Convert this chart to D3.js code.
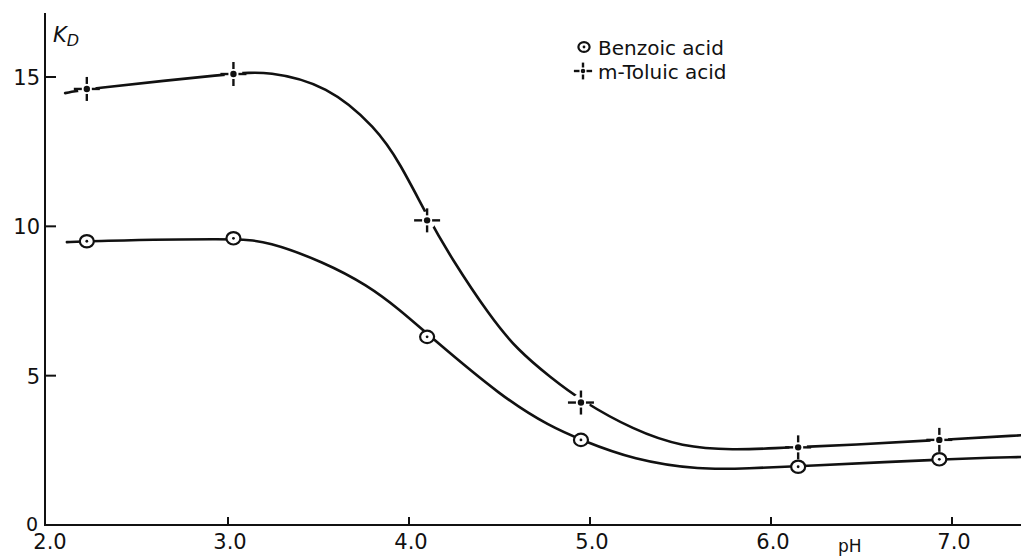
<html lang="en">
<head>
<meta charset="utf-8">
<title>KD vs pH</title>
<style>
  body { margin: 0; background: white; }
  svg text { font-family: "DejaVu Sans", Arial, sans-serif; fill: #111; }
  .curve { fill: none; stroke: #111; stroke-width: 2.6; stroke-linecap: round; }
</style>
</head>
<body>
<div id="chart"></div>
<script src="https://d3js.org/d3.v7.min.js"></script>
<script>
// measured points (pH, KD)
var phValues = [2.22, 3.03, 4.10, 4.95, 6.15, 6.93];
var benzoic  = [9.5, 9.6, 6.3, 2.85, 1.95, 2.2];
var toluic   = [14.6, 15.1, 10.2, 4.1, 2.6, 2.85];

// hand-drawn curves
var benzoicCurve = [[2.11,9.47],[2.22,9.51],[3.04,9.6],[3.22,9.5],[3.53,8.8],[3.77,8.03],[3.95,7.2],
  [4.10,6.4],[4.52,4.25],[4.78,3.3],[4.95,2.85],[5.24,2.18],[5.61,1.84],[5.88,1.9],[6.15,1.96],
  [6.93,2.2],[7.40,2.28]];
var toluicCurve = [[2.10,14.46],[2.22,14.6],[3.03,15.12],[3.22,15.2],[3.55,14.73],[3.82,13.29],
  [3.95,12.12],[4.10,10.35],[4.23,8.97],[4.45,6.96],[4.60,5.86],[4.78,4.95],[4.95,4.17],[5.24,3.18],
  [5.51,2.61],[5.79,2.51],[6.05,2.58],[6.15,2.61],[6.44,2.68],[6.93,2.85],[7.40,3.01]];

var xTicks = [2, 3, 4, 5, 6, 7];
var xTickLabels = ["2.0", "3.0", "4.0", "5.0", "6.0", "7.0"];
var yTicks = [5, 10, 15];

var width = 1021, height = 558;

var svg = d3.select("#chart").append("svg")
  .attr("width", width).attr("height", height);

var x = d3.scaleLinear().domain([2, 7]).range([47, 952]);
var y = d3.scaleLinear().domain([0, 15]).range([525, 77]);

// axes
svg.append("line").attr("x1", 45).attr("x2", 45).attr("y1", 13).attr("y2", 526)
  .attr("stroke", "#111").attr("stroke-width", 2);
svg.append("line").attr("x1", 44).attr("x2", width).attr("y1", 525).attr("y2", 525)
  .attr("stroke", "#111").attr("stroke-width", 2);

svg.selectAll(".ytick").data(yTicks).enter().append("line")
  .attr("x1", 45).attr("x2", 56)
  .attr("y1", function(d){ return y(d); }).attr("y2", function(d){ return y(d); })
  .attr("stroke", "#111").attr("stroke-width", 2);
svg.selectAll(".ylab").data(yTicks).enter().append("text")
  .attr("x", 40).attr("y", function(d){ return y(d) + 8; })
  .attr("text-anchor", "end").attr("font-size", 21)
  .text(function(d){ return d; });

svg.selectAll(".xtick").data(xTicks.slice(1)).enter().append("line")
  .attr("x1", function(d){ return x(d); }).attr("x2", function(d){ return x(d); })
  .attr("y1", 517).attr("y2", 525)
  .attr("stroke", "#111").attr("stroke-width", 2);
svg.selectAll(".xlab").data(xTicks).enter().append("text")
  .attr("x", function(d, i){ return i == 0 ? 50 : x(d) + 2; }).attr("y", 549)
  .attr("text-anchor", "middle").attr("font-size", 21)
  .text(function(d, i){ return xTickLabels[i]; });

svg.append("text").attr("x", 32).attr("y", 531).attr("text-anchor", "middle")
  .attr("font-size", 19).text("0");

var kd = svg.append("text").attr("x", 53).attr("y", 42)
  .attr("font-size", 21).attr("font-style", "italic");
kd.append("tspan").text("K");
kd.append("tspan").attr("font-size", 16).attr("dy", 4).text("D");

svg.append("text").attr("x", 838).attr("y", 552).attr("font-size", 17).text("pH");

// curves
var line = d3.line()
  .x(function(d){ return x(d[0]); })
  .y(function(d){ return y(d[1]); })
  .curve(d3.curveBasis);

svg.append("path").datum(benzoicCurve).attr("class", "curve").attr("d", line);
svg.append("path").datum(toluicCurve).attr("class", "curve").attr("d", line);

// m-toluic markers: dashed cross with centre dot
function crossMarker(g, cx, cy, s) {
  g.append("circle").attr("cx", cx).attr("cy", cy).attr("r", 9 * s).attr("fill", "white");
  var arms = [[1,0],[-1,0],[0,1],[0,-1]];
  arms.forEach(function(a){
    g.append("line")
      .attr("x1", cx + a[0] * 5 * s).attr("y1", cy + a[1] * 5 * s)
      .attr("x2", cx + a[0] * 13 * s).attr("y2", cy + a[1] * 12 * s)
      .attr("stroke", "#111").attr("stroke-width", 2.4);
  });
  g.append("circle").attr("cx", cx).attr("cy", cy).attr("r", 3.2 * s).attr("fill", "#111");
}
// benzoic markers: open circle with centre dot
function circleMarker(g, cx, cy, s) {
  g.append("ellipse").attr("cx", cx).attr("cy", cy).attr("rx", 7 * s).attr("ry", 6.2 * s)
    .attr("fill", "white").attr("stroke", "#111").attr("stroke-width", 2.2);
  g.append("circle").attr("cx", cx).attr("cy", cy).attr("r", 1.4).attr("fill", "#111");
}

var marks = svg.append("g");
phValues.forEach(function(p, i){
  crossMarker(marks, x(p), y(toluic[i]), 1);
  circleMarker(marks, x(p), y(benzoic[i]), 1);
});

// legend
var legend = svg.append("g");
circleMarker(legend, 584, 47, 0.8);
legend.append("text").attr("x", 598).attr("y", 55).attr("font-size", 20).text("Benzoic  acid");
crossMarker(legend, 583, 71, 0.7);
legend.append("text").attr("x", 598).attr("y", 79).attr("font-size", 20).text("m-Toluic  acid");
</script>
</body>
</html>
